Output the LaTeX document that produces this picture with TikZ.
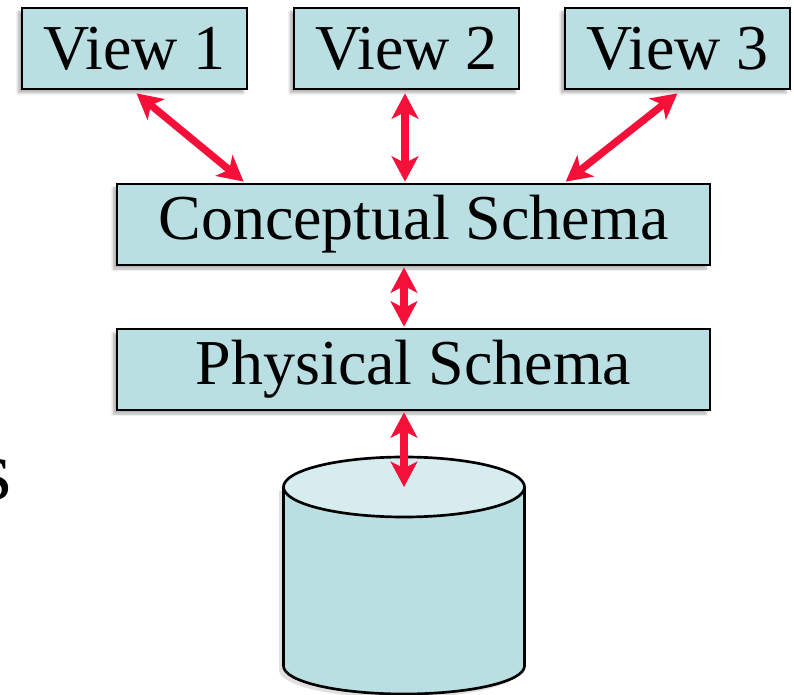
\documentclass[tikz,border=0pt]{standalone}
\usepackage{fontspec}
\setmainfont{Liberation Serif}
\usetikzlibrary{arrows.meta,shadows.blur,calc}
\definecolor{boxfill}{HTML}{BADFE3}
\definecolor{topfill}{HTML}{D6ECEF}
\definecolor{arrowred}{HTML}{F5103A}
\tikzset{
  schemabox/.style={draw=black, line width=2pt, fill=boxfill, inner sep=0pt,
    font=\fontsize{48}{52}\selectfont, text=black,
    blur shadow={shadow xshift=-3pt, shadow yshift=-3pt, shadow blur steps=6, shadow opacity=30}},
  viewbox/.style={schemabox, minimum width=168.75pt, minimum height=60.75pt},
  widebox/.style={schemabox, minimum width=444.75pt, minimum height=60.75pt},
  link/.style={draw=arrowred, line width=5.5pt,
    {Stealth[length=19pt,width=20pt,inset=5pt]}-{Stealth[length=19pt,width=20pt,inset=5pt]}},
}
\begin{document}
\begin{tikzpicture}[x=0.75pt,y=-0.75pt]
\useasboundingbox (0,0) rectangle (794,695);
% nodes
\node[viewbox] (v1) at (134.5,48.5) {View 1};
\node[viewbox] (v2) at (406.5,48.5) {View 2};
\node[viewbox] (v3) at (677.5,48.5) {View 3};
\node[widebox] (cs) at (413.5,224.5) {Conceptual Schema};
\node[widebox] (ps) at (413.5,369.5) {Physical Schema};
% cylinder
\coordinate (dbtop) at (404,487);
\fill[black, opacity=0.12] (279,491) -- (279,670) arc[start angle=180, end angle=0, x radius=120.5, y radius=28] -- (520,491) -- cycle;
\draw[line width=2pt, fill=boxfill] (283.5,487) -- (283.5,666) arc[start angle=180, end angle=0, x radius=120.5, y radius=28] -- (524.5,487) -- cycle;
\draw[line width=2pt, fill=topfill] (dbtop) ellipse[x radius=120.5, y radius=30];
% s at left edge
\node[anchor=base east, inner sep=0pt, font=\fontsize{64}{70}\selectfont] (s) at (12,500) {s};
% connectors
\draw[link] ($(v1.south)+(2,3)$) -- ($(cs.north west)+(128,-1)$);
\draw[link] ($(v2.south)+(-1.5,3)$) -- ($(cs.north -| v2.south)+(-1.5,-1)$);
\draw[link] ($(v3.south)+(0,3)$) -- ($(cs.north west)+(450,-1)$);
\draw[link] ($(cs.south -| dbtop)+(0,1)$) -- ($(ps.north -| dbtop)+(0,-1)$);
\draw[link] ($(ps.south -| dbtop)+(0,1)$) -- (dbtop);
\end{tikzpicture}
\end{document}
